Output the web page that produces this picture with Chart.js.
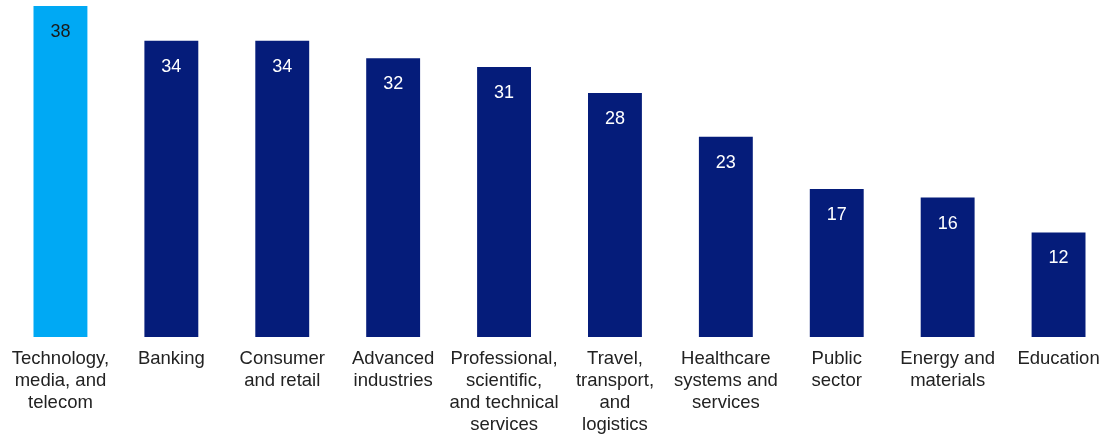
<!DOCTYPE html>
<html>
<head>
<meta charset="utf-8">
<script src="https://cdn.jsdelivr.net/npm/chart.js@4.4.1/dist/chart.umd.min.js"></script>
<style>
  html, body { margin: 0; padding: 0; background: #fff; }
  #wrap { width: 1118px; height: 435px; position: relative; }
</style>
</head>
<body>
<div id="wrap"><canvas id="chart"></canvas></div>
<script>
// Share of respondents by industry
const categories = [
  ['Technology,', 'media, and', 'telecom'],
  ['Banking'],
  ['Consumer', 'and retail'],
  ['Advanced', 'industries'],
  ['Professional,', 'scientific,', 'and technical', 'services'],
  ['Travel,', 'transport,', 'and', 'logistics'],
  ['Healthcare', 'systems and', 'services'],
  ['Public', 'sector'],
  ['Energy and', 'materials'],
  ['Education']
];
const values = [38, 34, 34, 32, 31, 28, 23, 17, 16, 12];

const LIGHT = '#00A9F4';
const DARK = '#051C7A';
const FONT = '"Liberation Sans", Arial, sans-serif';

// value labels inside the top of each bar
const valueLabels = {
  id: 'valueLabels',
  afterDatasetsDraw(chart) {
    const ctx = chart.ctx;
    const meta = chart.getDatasetMeta(0);
    ctx.save();
    ctx.font = '18px ' + FONT;
    ctx.textAlign = 'center';
    ctx.textBaseline = 'middle';
    meta.data.forEach((bar, i) => {
      ctx.fillStyle = i === 0 ? '#1a1a1a' : '#ffffff';
      ctx.fillText(String(values[i]), bar.x, bar.y + 26);
    });
    ctx.restore();
  }
};

new Chart(document.getElementById('chart'), {
  type: 'bar',
  data: {
    labels: categories,
    datasets: [{
      data: values,
      backgroundColor: values.map((v, i) => i === 0 ? LIGHT : DARK),
      barPercentage: 0.486,
      categoryPercentage: 1,
      borderWidth: 0
    }]
  },
  options: {
    responsive: true,
    maintainAspectRatio: false,
    animation: false,
    layout: { padding: { top: 6, left: 5, right: 4, bottom: -4 } },
    plugins: {
      legend: { display: false },
      tooltip: { enabled: false }
    },
    scales: {
      y: { display: false, min: 0, max: 38 },
      x: {
        grid: { display: false },
        border: { display: false },
        ticks: {
          color: '#222222',
          font: { family: FONT, size: 18.5, lineHeight: 1.19 },
          padding: 3,
          maxRotation: 0,
          autoSkip: false
        }
      }
    }
  },
  plugins: [valueLabels]
});
</script>
</body>
</html>
